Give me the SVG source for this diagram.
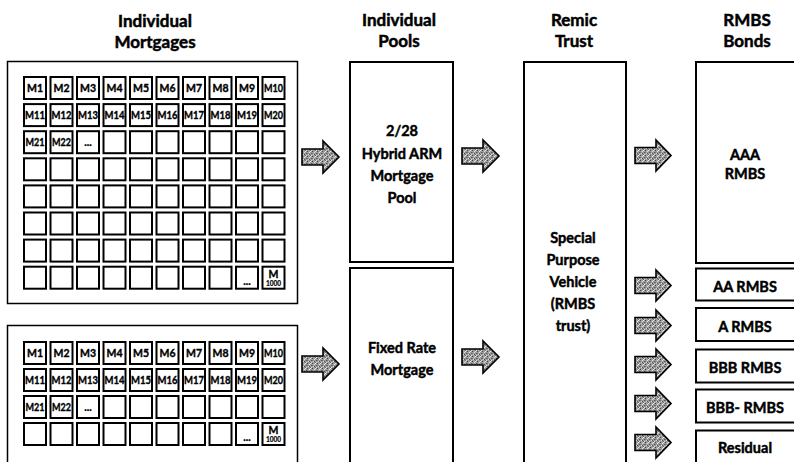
<svg xmlns="http://www.w3.org/2000/svg" xmlns:xlink="http://www.w3.org/1999/xlink" width="794" height="462" viewBox="0 0 794 462">
<style>
text{font-family:Lato,"Liberation Sans",sans-serif;font-weight:bold;fill:#000;text-anchor:middle;stroke:#000}
.h{font-size:17px;stroke-width:0.5}
.t{font-size:14.5px;stroke-width:0.45}
.c{font-size:10.5px;stroke-width:0.35}
.s{font-size:6.5px;stroke-width:0.2}
.frame{fill:#fff;stroke:#000;stroke-width:1.5}
.box{fill:#fff;stroke:#000;stroke-width:2}
.cell{fill:#fff;stroke:#000;stroke-width:2}
.arr{fill:url(#tex);stroke:#000;stroke-width:1.6;stroke-linejoin:miter}
</style>
<defs>
<pattern id="tex" width="5" height="5" patternUnits="userSpaceOnUse">
<rect width="5" height="5" fill="#9c9c9c"/>
<rect x="0" y="0" width="1" height="1" fill="#444"/>
<rect x="2" y="1" width="1" height="1" fill="#e4e4e4"/>
<rect x="4" y="2" width="1" height="1" fill="#555"/>
<rect x="1" y="3" width="1" height="1" fill="#d8d8d8"/>
<rect x="3" y="4" width="1" height="1" fill="#666"/>
<rect x="3" y="0" width="1" height="1" fill="#ececec"/>
<rect x="0" y="2" width="1" height="1" fill="#777"/>
<rect x="2" y="3" width="1" height="1" fill="#505050"/>
<rect x="4" y="4" width="1" height="1" fill="#dedede"/>
</pattern>
<path id="arrow" class="arr" d="M0,8 H21 V0 L37,16 L21,32 V24 H0 Z"/>
<path id="arrowS" class="arr" d="M0,7.5 H21 V0 L36,15.5 L21,31 V23.5 H0 Z"/>
</defs>
<rect width="794" height="462" fill="#fff"/>

<g id="headings">
<text class="h" x="155" y="27">Individual</text>
<text class="h" x="155" y="48">Mortgages</text>
<text class="h" x="399" y="26">Individual</text>
<text class="h" x="399" y="47">Pools</text>
<text class="h" x="574" y="26">Remic</text>
<text class="h" x="574" y="47">Trust</text>
<text class="h" x="747" y="26">RMBS</text>
<text class="h" x="747" y="47">Bonds</text>
</g>

<g id="mortgages-top">
<rect class="frame" x="7.5" y="61.5" width="290" height="242"/>
<g id="grid-top">
<rect class="cell" x="24" y="77" width="22" height="22"/><rect class="cell" x="50.5" y="77" width="22" height="22"/><rect class="cell" x="77" y="77" width="22" height="22"/><rect class="cell" x="103.5" y="77" width="22" height="22"/><rect class="cell" x="130" y="77" width="22" height="22"/><rect class="cell" x="156.5" y="77" width="22" height="22"/><rect class="cell" x="183" y="77" width="22" height="22"/><rect class="cell" x="209.5" y="77" width="22" height="22"/><rect class="cell" x="236" y="77" width="22" height="22"/><rect class="cell" x="262.5" y="77" width="22" height="22"/>
<rect class="cell" x="24" y="104.1" width="22" height="22"/><rect class="cell" x="50.5" y="104.1" width="22" height="22"/><rect class="cell" x="77" y="104.1" width="22" height="22"/><rect class="cell" x="103.5" y="104.1" width="22" height="22"/><rect class="cell" x="130" y="104.1" width="22" height="22"/><rect class="cell" x="156.5" y="104.1" width="22" height="22"/><rect class="cell" x="183" y="104.1" width="22" height="22"/><rect class="cell" x="209.5" y="104.1" width="22" height="22"/><rect class="cell" x="236" y="104.1" width="22" height="22"/><rect class="cell" x="262.5" y="104.1" width="22" height="22"/>
<rect class="cell" x="24" y="131.2" width="22" height="22"/><rect class="cell" x="50.5" y="131.2" width="22" height="22"/><rect class="cell" x="77" y="131.2" width="22" height="22"/><rect class="cell" x="103.5" y="131.2" width="22" height="22"/><rect class="cell" x="130" y="131.2" width="22" height="22"/><rect class="cell" x="156.5" y="131.2" width="22" height="22"/><rect class="cell" x="183" y="131.2" width="22" height="22"/><rect class="cell" x="209.5" y="131.2" width="22" height="22"/><rect class="cell" x="236" y="131.2" width="22" height="22"/><rect class="cell" x="262.5" y="131.2" width="22" height="22"/>
<rect class="cell" x="24" y="158.3" width="22" height="22"/><rect class="cell" x="50.5" y="158.3" width="22" height="22"/><rect class="cell" x="77" y="158.3" width="22" height="22"/><rect class="cell" x="103.5" y="158.3" width="22" height="22"/><rect class="cell" x="130" y="158.3" width="22" height="22"/><rect class="cell" x="156.5" y="158.3" width="22" height="22"/><rect class="cell" x="183" y="158.3" width="22" height="22"/><rect class="cell" x="209.5" y="158.3" width="22" height="22"/><rect class="cell" x="236" y="158.3" width="22" height="22"/><rect class="cell" x="262.5" y="158.3" width="22" height="22"/>
<rect class="cell" x="24" y="185.4" width="22" height="22"/><rect class="cell" x="50.5" y="185.4" width="22" height="22"/><rect class="cell" x="77" y="185.4" width="22" height="22"/><rect class="cell" x="103.5" y="185.4" width="22" height="22"/><rect class="cell" x="130" y="185.4" width="22" height="22"/><rect class="cell" x="156.5" y="185.4" width="22" height="22"/><rect class="cell" x="183" y="185.4" width="22" height="22"/><rect class="cell" x="209.5" y="185.4" width="22" height="22"/><rect class="cell" x="236" y="185.4" width="22" height="22"/><rect class="cell" x="262.5" y="185.4" width="22" height="22"/>
<rect class="cell" x="24" y="212.5" width="22" height="22"/><rect class="cell" x="50.5" y="212.5" width="22" height="22"/><rect class="cell" x="77" y="212.5" width="22" height="22"/><rect class="cell" x="103.5" y="212.5" width="22" height="22"/><rect class="cell" x="130" y="212.5" width="22" height="22"/><rect class="cell" x="156.5" y="212.5" width="22" height="22"/><rect class="cell" x="183" y="212.5" width="22" height="22"/><rect class="cell" x="209.5" y="212.5" width="22" height="22"/><rect class="cell" x="236" y="212.5" width="22" height="22"/><rect class="cell" x="262.5" y="212.5" width="22" height="22"/>
<rect class="cell" x="24" y="239.6" width="22" height="22"/><rect class="cell" x="50.5" y="239.6" width="22" height="22"/><rect class="cell" x="77" y="239.6" width="22" height="22"/><rect class="cell" x="103.5" y="239.6" width="22" height="22"/><rect class="cell" x="130" y="239.6" width="22" height="22"/><rect class="cell" x="156.5" y="239.6" width="22" height="22"/><rect class="cell" x="183" y="239.6" width="22" height="22"/><rect class="cell" x="209.5" y="239.6" width="22" height="22"/><rect class="cell" x="236" y="239.6" width="22" height="22"/><rect class="cell" x="262.5" y="239.6" width="22" height="22"/>
<rect class="cell" x="24" y="266.7" width="22" height="22"/><rect class="cell" x="50.5" y="266.7" width="22" height="22"/><rect class="cell" x="77" y="266.7" width="22" height="22"/><rect class="cell" x="103.5" y="266.7" width="22" height="22"/><rect class="cell" x="130" y="266.7" width="22" height="22"/><rect class="cell" x="156.5" y="266.7" width="22" height="22"/><rect class="cell" x="183" y="266.7" width="22" height="22"/><rect class="cell" x="209.5" y="266.7" width="22" height="22"/><rect class="cell" x="236" y="266.7" width="22" height="22"/><rect class="cell" x="262.5" y="266.7" width="22" height="22"/>
</g>
<g id="labels-top">
<text class="c" x="35" y="92">M1</text><text class="c" x="61.5" y="92">M2</text><text class="c" x="88" y="92">M3</text><text class="c" x="114.5" y="92">M4</text><text class="c" x="141" y="92">M5</text><text class="c" x="167.5" y="92">M6</text><text class="c" x="194" y="92">M7</text><text class="c" x="220.5" y="92">M8</text><text class="c" x="247" y="92">M9</text><text class="c" x="273.5" y="92" textLength="19" lengthAdjust="spacingAndGlyphs">M10</text>
<text class="c" x="35" y="119" textLength="20" lengthAdjust="spacingAndGlyphs">M11</text><text class="c" x="61.5" y="119" textLength="20" lengthAdjust="spacingAndGlyphs">M12</text><text class="c" x="88" y="119" textLength="20" lengthAdjust="spacingAndGlyphs">M13</text><text class="c" x="114.5" y="119" textLength="20" lengthAdjust="spacingAndGlyphs">M14</text><text class="c" x="141" y="119" textLength="20" lengthAdjust="spacingAndGlyphs">M15</text><text class="c" x="167.5" y="119" textLength="20" lengthAdjust="spacingAndGlyphs">M16</text><text class="c" x="194" y="119" textLength="20" lengthAdjust="spacingAndGlyphs">M17</text><text class="c" x="220.5" y="119" textLength="20" lengthAdjust="spacingAndGlyphs">M18</text><text class="c" x="247" y="119" textLength="20" lengthAdjust="spacingAndGlyphs">M19</text><text class="c" x="273.5" y="119" textLength="19" lengthAdjust="spacingAndGlyphs">M20</text>
<text class="c" x="35" y="146" textLength="19" lengthAdjust="spacingAndGlyphs">M21</text><text class="c" x="61.5" y="146" textLength="19" lengthAdjust="spacingAndGlyphs">M22</text><text class="c" x="88" y="146">...</text>
<text class="c" x="247" y="285">...</text>
<text class="c" x="273.5" y="278">M</text><text class="s" x="273.5" y="286">1000</text>
</g>
</g>

<g id="mortgages-bottom">
<rect class="frame" x="7.5" y="325.5" width="290" height="150"/>
<g id="grid-bottom">
<rect class="cell" x="24" y="342" width="22" height="22"/><rect class="cell" x="50.5" y="342" width="22" height="22"/><rect class="cell" x="77" y="342" width="22" height="22"/><rect class="cell" x="103.5" y="342" width="22" height="22"/><rect class="cell" x="130" y="342" width="22" height="22"/><rect class="cell" x="156.5" y="342" width="22" height="22"/><rect class="cell" x="183" y="342" width="22" height="22"/><rect class="cell" x="209.5" y="342" width="22" height="22"/><rect class="cell" x="236" y="342" width="22" height="22"/><rect class="cell" x="262.5" y="342" width="22" height="22"/>
<rect class="cell" x="24" y="369" width="22" height="22"/><rect class="cell" x="50.5" y="369" width="22" height="22"/><rect class="cell" x="77" y="369" width="22" height="22"/><rect class="cell" x="103.5" y="369" width="22" height="22"/><rect class="cell" x="130" y="369" width="22" height="22"/><rect class="cell" x="156.5" y="369" width="22" height="22"/><rect class="cell" x="183" y="369" width="22" height="22"/><rect class="cell" x="209.5" y="369" width="22" height="22"/><rect class="cell" x="236" y="369" width="22" height="22"/><rect class="cell" x="262.5" y="369" width="22" height="22"/>
<rect class="cell" x="24" y="396" width="22" height="22"/><rect class="cell" x="50.5" y="396" width="22" height="22"/><rect class="cell" x="77" y="396" width="22" height="22"/><rect class="cell" x="103.5" y="396" width="22" height="22"/><rect class="cell" x="130" y="396" width="22" height="22"/><rect class="cell" x="156.5" y="396" width="22" height="22"/><rect class="cell" x="183" y="396" width="22" height="22"/><rect class="cell" x="209.5" y="396" width="22" height="22"/><rect class="cell" x="236" y="396" width="22" height="22"/><rect class="cell" x="262.5" y="396" width="22" height="22"/>
<rect class="cell" x="24" y="423" width="22" height="22"/><rect class="cell" x="50.5" y="423" width="22" height="22"/><rect class="cell" x="77" y="423" width="22" height="22"/><rect class="cell" x="103.5" y="423" width="22" height="22"/><rect class="cell" x="130" y="423" width="22" height="22"/><rect class="cell" x="156.5" y="423" width="22" height="22"/><rect class="cell" x="183" y="423" width="22" height="22"/><rect class="cell" x="209.5" y="423" width="22" height="22"/><rect class="cell" x="236" y="423" width="22" height="22"/><rect class="cell" x="262.5" y="423" width="22" height="22"/>
</g>
<g id="labels-bottom">
<text class="c" x="35" y="357">M1</text><text class="c" x="61.5" y="357">M2</text><text class="c" x="88" y="357">M3</text><text class="c" x="114.5" y="357">M4</text><text class="c" x="141" y="357">M5</text><text class="c" x="167.5" y="357">M6</text><text class="c" x="194" y="357">M7</text><text class="c" x="220.5" y="357">M8</text><text class="c" x="247" y="357">M9</text><text class="c" x="273.5" y="357" textLength="19" lengthAdjust="spacingAndGlyphs">M10</text>
<text class="c" x="35" y="384" textLength="20" lengthAdjust="spacingAndGlyphs">M11</text><text class="c" x="61.5" y="384" textLength="20" lengthAdjust="spacingAndGlyphs">M12</text><text class="c" x="88" y="384" textLength="20" lengthAdjust="spacingAndGlyphs">M13</text><text class="c" x="114.5" y="384" textLength="20" lengthAdjust="spacingAndGlyphs">M14</text><text class="c" x="141" y="384" textLength="20" lengthAdjust="spacingAndGlyphs">M15</text><text class="c" x="167.5" y="384" textLength="20" lengthAdjust="spacingAndGlyphs">M16</text><text class="c" x="194" y="384" textLength="20" lengthAdjust="spacingAndGlyphs">M17</text><text class="c" x="220.5" y="384" textLength="20" lengthAdjust="spacingAndGlyphs">M18</text><text class="c" x="247" y="384" textLength="20" lengthAdjust="spacingAndGlyphs">M19</text><text class="c" x="273.5" y="384" textLength="19" lengthAdjust="spacingAndGlyphs">M20</text>
<text class="c" x="35" y="411" textLength="19" lengthAdjust="spacingAndGlyphs">M21</text><text class="c" x="61.5" y="411" textLength="19" lengthAdjust="spacingAndGlyphs">M22</text><text class="c" x="88" y="411">...</text>
<text class="c" x="247" y="441">...</text>
<text class="c" x="273.5" y="434">M</text><text class="s" x="273.5" y="442">1000</text>
</g>
</g>

<g id="pool-arm">
<rect class="box" x="350" y="62" width="103" height="200"/>
<text class="t" x="402" y="136">2/28</text>
<text class="t" x="402" y="159">Hybrid ARM</text>
<text class="t" x="402" y="181">Mortgage</text>
<text class="t" x="402" y="203">Pool</text>
</g>
<g id="pool-fixed">
<rect class="box" x="350" y="268" width="103" height="210"/>
<text class="t" x="402" y="353">Fixed Rate</text>
<text class="t" x="402" y="375">Mortgage</text>
</g>

<g id="trust">
<rect class="box" x="524" y="62" width="102" height="416"/>
<text class="t" x="573" y="243">Special</text>
<text class="t" x="573" y="265">Purpose</text>
<text class="t" x="573" y="287">Vehicle</text>
<text class="t" x="573" y="309">(RMBS</text>
<text class="t" x="573" y="331">trust)</text>
</g>

<g id="bond-aaa">
<rect class="box" x="696" y="62" width="110" height="201"/>
<text class="t" x="745" y="160">AAA</text>
<text class="t" x="745" y="179">RMBS</text>
</g>
<g id="bond-aa">
<rect class="box" x="696" y="268.5" width="110" height="32"/>
<text class="t" x="745" y="292">AA RMBS</text>
</g>
<g id="bond-a">
<rect class="box" x="696" y="308" width="110" height="33"/>
<text class="t" x="745" y="332">A RMBS</text>
</g>
<g id="bond-bbb">
<rect class="box" x="696" y="349.5" width="110" height="33"/>
<text class="t" x="745" y="373">BBB RMBS</text>
</g>
<g id="bond-bbbminus">
<rect class="box" x="696" y="389.5" width="110" height="33"/>
<text class="t" x="745" y="413">BBB- RMBS</text>
</g>
<g id="bond-residual">
<rect class="box" x="696" y="430.5" width="110" height="40"/>
<text class="t" x="745" y="453">Residual</text>
</g>

<g id="connectors">
<use href="#arrow" xlink:href="#arrow" x="302" y="141"/>
<use href="#arrow" xlink:href="#arrow" x="302" y="348"/>
<use href="#arrow" xlink:href="#arrow" x="462" y="140"/>
<use href="#arrow" xlink:href="#arrow" x="462" y="341"/>
<use href="#arrowS" xlink:href="#arrowS" x="635" y="140"/>
<use href="#arrowS" xlink:href="#arrowS" x="635" y="270"/>
<use href="#arrowS" xlink:href="#arrowS" x="635" y="310"/>
<use href="#arrowS" xlink:href="#arrowS" x="635" y="349"/>
<use href="#arrowS" xlink:href="#arrowS" x="635" y="388"/>
<use href="#arrowS" xlink:href="#arrowS" x="635" y="427"/>
</g>
</svg>
